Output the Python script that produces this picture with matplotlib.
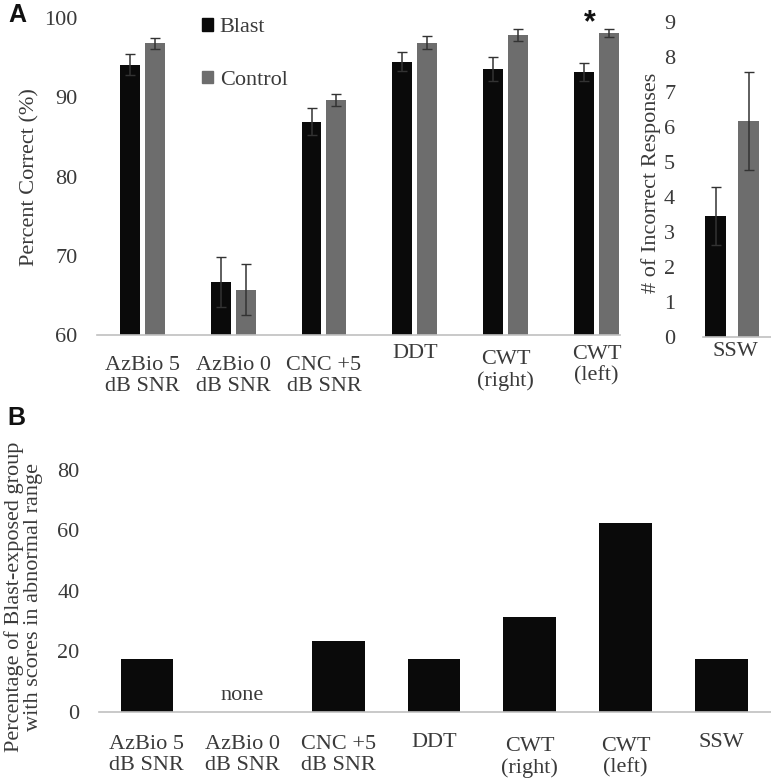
import numpy as np
import matplotlib
matplotlib.use("Agg")
import matplotlib.pyplot as plt
from matplotlib.patches import Patch

plt.rcParams['font.family'] = ['Liberation Serif', 'DejaVu Serif']

# ---- data -------------------------------------------------------------
tests_a = ["AzBio 5\ndB SNR", "AzBio 0\ndB SNR", "CNC +5\ndB SNR", "DDT",
           "CWT\n(right)", "CWT\n(left)"]
blast_pct = [94.1, 66.7, 86.9, 94.5, 93.6, 93.2]
blast_err = [1.35, 3.2, 1.7, 1.2, 1.5, 1.1]
control_pct = [96.8, 65.7, 89.7, 96.9, 97.8, 98.1]
control_err = [0.7, 3.2, 0.75, 0.77, 0.75, 0.45]

ssw_blast, ssw_blast_err = 3.46, 0.84
ssw_control, ssw_control_err = 6.17, 1.4

tests_b = ["AzBio 5\ndB SNR", "AzBio 0\ndB SNR", "CNC +5\ndB SNR", "DDT",
           "CWT\n(right)", "CWT\n(left)", "SSW"]
abnormal_pct = [17.6, 0, 23.5, 17.6, 31.3, 62.5, 17.6]

# ---- style ------------------------------------------------------------
BLAST = '#0a0a0a'
CONTROL = '#6d6d6d'
TXT = '#3a3a3a'
AXIS = '#c0c0c0'
ERR = '#333333'
FS = 16

fig = plt.figure(figsize=(7.71, 7.82), dpi=100)


def style_axis(ax, pad):
    for s in ['top', 'right', 'left']:
        ax.spines[s].set_visible(False)
    ax.spines['bottom'].set_color(AXIS)
    ax.spines['bottom'].set_linewidth(1.2)
    ax.tick_params(axis='both', length=0, labelsize=FS, colors=TXT, pad=pad)
    ax.set_xticks([])


def put_labels(ax, xs, labels, drops):
    # category labels hang below the axis, each with its own drop (px)
    for x, lab, d in zip(xs, labels, drops):
        ax.annotate(lab, xy=(x, 0), xycoords=('data', 'axes fraction'),
                    xytext=(0, -d * 0.72), textcoords='offset points',
                    ha='center', va='top', fontsize=FS, color=TXT,
                    linespacing=1.15)


# ---- panel A: percent correct ----------------------------------------
axA = fig.add_axes([97 / 771, 1 - 335 / 782, 523 / 771, 317 / 782])
x = np.arange(len(tests_a))
w = 0.22
off = 0.1375
axA.bar(x - off, blast_pct, w, color=BLAST,
        yerr=blast_err, ecolor=ERR, capsize=3.5, error_kw={'elinewidth': 1.1})
axA.bar(x + off, control_pct, w, color=CONTROL,
        yerr=control_err, ecolor=ERR, capsize=3.5, error_kw={'elinewidth': 1.1})
axA.set_ylim(60, 100)
axA.set_xlim(-0.5, 5.26)
axA.set_yticks([60, 70, 80, 90, 100])
style_axis(axA, 14)
put_labels(axA, x, tests_a, [21, 21, 21, 9, 15, 10])
axA.text(4.93, 99.4, '*', ha='center', va='center', fontsize=22,
         color='#111111', family='Liberation Sans', fontweight='bold')

axA.legend(handles=[Patch(color=BLAST, label='Blast'),
                    Patch(color=CONTROL, label='Control')],
           loc='upper left', bbox_to_anchor=(202 / 771, 1 - 18 / 782),
           bbox_transform=fig.transFigure, frameon=False, fontsize=FS,
           handlelength=0.5, handleheight=0.5, handletextpad=0.3,
           labelspacing=1.5, labelcolor=TXT, borderpad=0, borderaxespad=0)

fig.text(30 / 771, 1 - 177 / 782, 'Percent Correct (%)', rotation=90,
         ha='center', va='center', fontsize=FS, color=TXT)

# ---- panel A: SSW incorrect responses --------------------------------
axS = fig.add_axes([703 / 771, 1 - 337 / 782, 68 / 771, 315 / 782])
ws = 0.362
axS.bar([-0.284], [ssw_blast], ws, color=BLAST, yerr=[ssw_blast_err],
        ecolor=ERR, capsize=3.5, error_kw={'elinewidth': 1.1})
axS.bar([0.284], [ssw_control], ws, color=CONTROL, yerr=[ssw_control_err],
        ecolor=ERR, capsize=3.5, error_kw={'elinewidth': 1.1})
axS.set_xlim(-0.5, 0.67)
axS.set_ylim(0, 9)
axS.set_yticks(range(10))
style_axis(axS, 20)
put_labels(axS, [0.05], ['SSW'], [5])
fig.text(651 / 771, 1 - 183 / 782, '# of Incorrect Responses', rotation=90,
         ha='center', va='center', fontsize=FS, color=TXT)

fig.text(8 / 771, 1 - 15 / 782, 'A', ha='left', va='center', fontsize=18,
         fontweight='bold', family='Liberation Sans', color='#111111')

# ---- panel B: abnormal range -----------------------------------------
axB = fig.add_axes([99 / 771, 1 - 711.7 / 782, 672 / 771, 241.7 / 782])
xb = np.arange(len(tests_b))
axB.bar(xb, abnormal_pct, 0.55, color=BLAST)
axB.set_xlim(-0.5, 6.52)
axB.set_ylim(0, 80)
axB.set_yticks([0, 20, 40, 60, 80])
style_axis(axB, 14)
put_labels(axB, xb, tests_b, [23, 23, 23, 21, 25, 25, 21])
axB.text(1, 5.2, 'none', ha='center', va='center', fontsize=FS, color=TXT)

fig.text(24 / 771, 1 - 597 / 782,
         'Percentage of Blast-exposed group\nwith scores in abnormal range',
         rotation=90, ha='center', va='center', fontsize=FS, color=TXT,
         linespacing=1.0)

fig.text(7 / 771, 1 - 418 / 782, 'B', ha='left', va='center', fontsize=18,
         fontweight='bold', family='Liberation Sans', color='#111111')

fig.savefig('out.png', dpi=100)
